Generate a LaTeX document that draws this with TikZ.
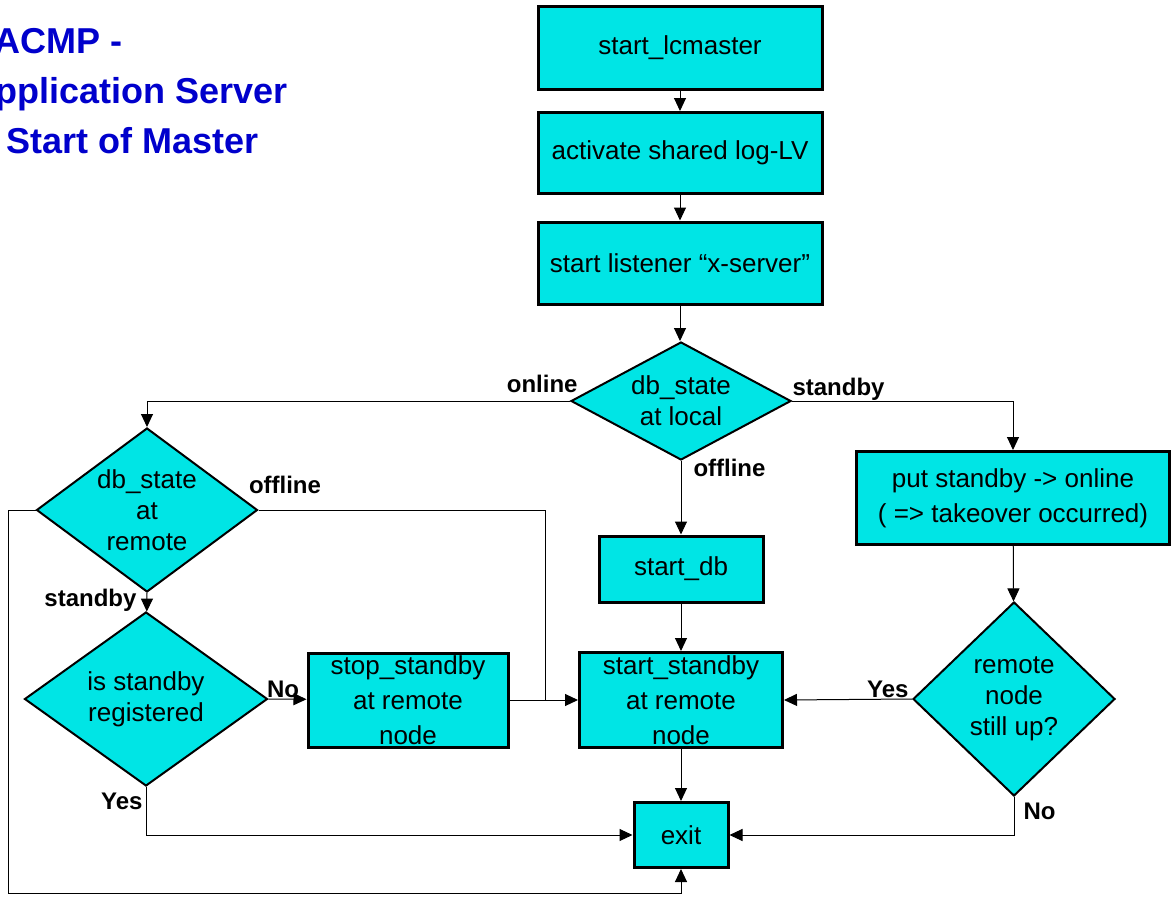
\documentclass[tikz,border=0pt]{standalone}
\usepackage{fontspec}
\setmainfont{Liberation Sans}
\usetikzlibrary{shapes.geometric,arrows.meta,positioning,calc}
\definecolor{boxcyan}{RGB}{0,229,229}
\definecolor{titleblue}{RGB}{0,0,204}

\begin{document}
\begin{tikzpicture}[
        x=1pt, y=-1pt,
        process/.style={rectangle, draw=black, line width=3pt, fill=boxcyan, align=center, inner sep=0pt, font=\fontsize{26}{35}\selectfont},
        decision/.style={diamond, draw=black, line width=2pt, fill=boxcyan, align=center, inner sep=0pt, font=\fontsize{26}{31}\selectfont},
        link/.style={line width=1pt, -{Triangle[length=13pt,width=12pt]}},
        line/.style={line width=1pt},
        branch/.style={font=\bfseries\fontsize{24}{28}\selectfont, inner sep=0pt},
        heading/.style={font=\bfseries\fontsize{36}{40}\selectfont, text=titleblue, inner sep=0pt}
    ]
    \useasboundingbox (0,0) rectangle (1171,897);

    % Title
    \node[heading, anchor=base east] (titleA) at (123,53) {ACMP -};
    \node[heading, anchor=base east] (titleB) at (288,103) {pplication Server};
    \node[heading, anchor=base west] (titleC) at (6,153) {Start of Master};

    % Steps
    \node[process, minimum width=284pt, minimum height=83pt] (lcmaster) at (680,48) {start\_lcmaster};
    \node[process, minimum width=284pt, minimum height=81pt] (sharedlog) at (680,153) {activate shared log-LV};
    \node[process, minimum width=284pt, minimum height=82pt] (listener) at (680,263) {start listener ``x-server''};
    \node[process, minimum width=164pt, minimum height=66pt] (startdb) at (681,569) {start\_db};
    \node[process, minimum width=200pt, minimum height=94pt] (stopstandby) at (408,700) {stop\_standby\\at remote\\node};
    \node[process, minimum width=203pt, minimum height=95pt] (startstandby) at (681,700) {start\_standby\\at remote\\node};
    \node[process, minimum width=94pt, minimum height=65pt] (exit) at (681,835) {exit};
    \node[process, minimum width=313pt, minimum height=93pt] (takeover) at (1013,498) {put standby -> online\\( => takeover occurred)};

    % Decisions
    \node[decision, minimum width=220pt, minimum height=118pt, aspect=1.86] (localstate) at (681,401) {db\_state\\at local};
    \node[decision, minimum width=221pt, minimum height=164pt, aspect=1.35] (remotestate) at (147,510) {db\_state\\at\\remote};
    \node[decision, minimum width=243pt, minimum height=174pt, aspect=1.4] (registered) at (146,699) {is standby\\registered};
    \node[decision, minimum width=202pt, minimum height=194pt, aspect=1.04] (remoteup) at (1014,699) {remote\\node\\still up?};

    \coordinate (offjoin) at (545,700);
    \coordinate (loopcorner) at (8,893);

    % Flow
    \draw[link] (lcmaster) -- (sharedlog);
    \draw[link] (sharedlog) -- (listener);
    \draw[link] (listener.south) -- (listener.south |- localstate.north);
    \draw[link] (localstate.west) node[branch, anchor=base east, xshift=8pt, yshift=9pt] {online} -| (remotestate.north);
    \draw[link] (localstate.east) node[branch, anchor=base west, yshift=6pt] {standby} -| (takeover.north);
    \draw[link] (localstate.south) node[branch, anchor=base west, xshift=12pt, yshift=-15pt] {offline} -- (startdb);
    \draw[link] (startdb) -- (startstandby);
    \draw[link] (startstandby) -- (exit);
    \draw[line] (remotestate.east) node[branch, anchor=base west, xshift=-10pt, yshift=17pt] {offline} -| (offjoin);
    \draw[link] (remotestate.south) node[branch, anchor=base east, xshift=-10pt, yshift=-13pt] {standby} -- (registered);
    \draw[link] (remotestate.west) -| (loopcorner) -| (exit.south);
    \draw[link] (registered.east) node[branch, anchor=base west, xshift=-2pt, yshift=2pt] {No} -- (stopstandby);
    \draw[link] (registered.south) node[branch, anchor=base east, xshift=-3pt, yshift=-22pt] {Yes} |- (exit.west);
    \draw[link] (stopstandby) -- (startstandby);
    \draw[link] (takeover) -- (remoteup);
    \draw[link] (remoteup.west) node[branch, anchor=base east, xshift=-3pt, yshift=2pt] {Yes} -- (startstandby.east);
    \draw[link] (remoteup.south) node[branch, anchor=base west, xshift=9pt, yshift=-22pt] {No} |- (exit.east);

\end{tikzpicture}
\end{document}
